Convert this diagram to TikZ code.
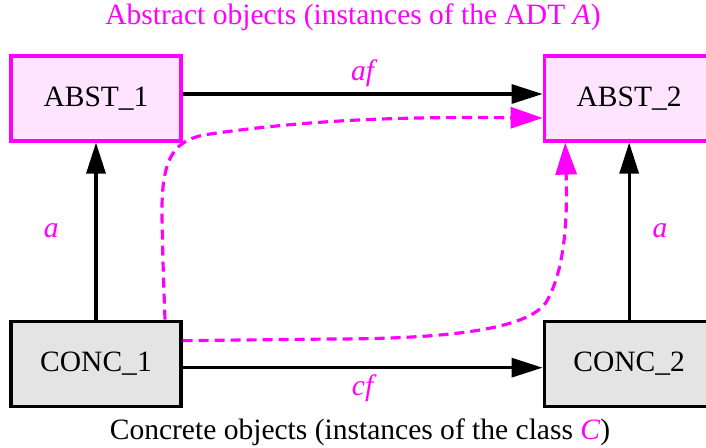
\documentclass[tikz,border=0pt]{standalone}
\usepackage{fontspec}
\setmainfont{Liberation Serif}
\newfontfamily\timesfont{Liberation Serif}
\usepackage{xcolor}
\usepackage{tikz}
\usetikzlibrary{arrows.meta,positioning,calc}
\definecolor{absfill}{RGB}{255,228,255}
\definecolor{concfill}{RGB}{228,228,228}
\definecolor{magline}{RGB}{255,0,255}

\begin{document}
\begin{tikzpicture}[
    every node/.style={font=\timesfont\fontsize{16.8}{20}\selectfont},
    absbox/.style={draw=magline, line width=1.8pt, rectangle, fill=absfill, minimum width=3.4cm, minimum height=1.7cm},
    concbox/.style={draw, line width=1.8pt, rectangle, fill=concfill, minimum width=3.4cm, minimum height=1.7cm},
    map/.style={line width=1.8pt, -{Triangle[length=0.62cm,width=0.38cm]}},
    track/.style={magline, line width=1.8pt, dash pattern=on 0.2cm off 0.12cm, -{Triangle[length=0.64cm,width=0.42cm]}},
    lbl/.style={text=magline, font=\timesfont\fontsize{16.8}{20}\selectfont\itshape}
]
\useasboundingbox (0,0) rectangle (14.12,-8.94);

% Abstract objects
\node[text=magline] (abstitle) at (7.06,-0.34) {Abstract objects (instances of the ADT \textit{A})};
\node[absbox] (abst1) at (1.92,-1.97) {ABST\_1};
\node[absbox, right=7.2cm of abst1] (abst2) {ABST\_2};

% Concrete objects
\node[concbox, below=3.54cm of abst1] (conc1) {CONC\_1};
\node[concbox, below=3.54cm of abst2] (conc2) {CONC\_2};
\node (conctitle) at (7.2,-8.64) {Concrete objects (instances of the class \textcolor{magline}{\textit{C}})};

% Functions and abstraction
\draw[map] ([yshift=0.09cm]abst1.east) -- ([yshift=0.09cm]abst2.west) node[lbl, midway, above] {af};
\draw[map] ([yshift=-0.08cm]conc1.east) -- ([yshift=-0.08cm]conc2.west) node[lbl, midway, below] {cf};
\draw[map] (conc1) -- (abst1) node[lbl, midway, left=0.6cm] {a};
\draw[map] (conc2) -- (abst2) node[lbl, midway, right=0.32cm] {a};

% Both ways round
\draw[track] ([xshift=1.38cm]conc1.north) .. controls (3.26,-5.3) .. (3.24,-4.34)
    .. controls (3.22,-3.1) and (3.5,-2.78) .. (4.2,-2.68)
    .. controls (6.5,-2.35) and (8.5,-2.34) .. ([yshift=-0.39cm]abst2.west);
\draw[track] ([yshift=0.46cm]conc1.east) -- (6.6,-6.78)
    .. controls (9.4,-6.78) and (10.6,-6.5) .. (10.92,-6.05)
    .. controls (11.3,-5.4) and (11.35,-4.4) .. ([xshift=-1.28cm]abst2.south);

\end{tikzpicture}
\end{document}
